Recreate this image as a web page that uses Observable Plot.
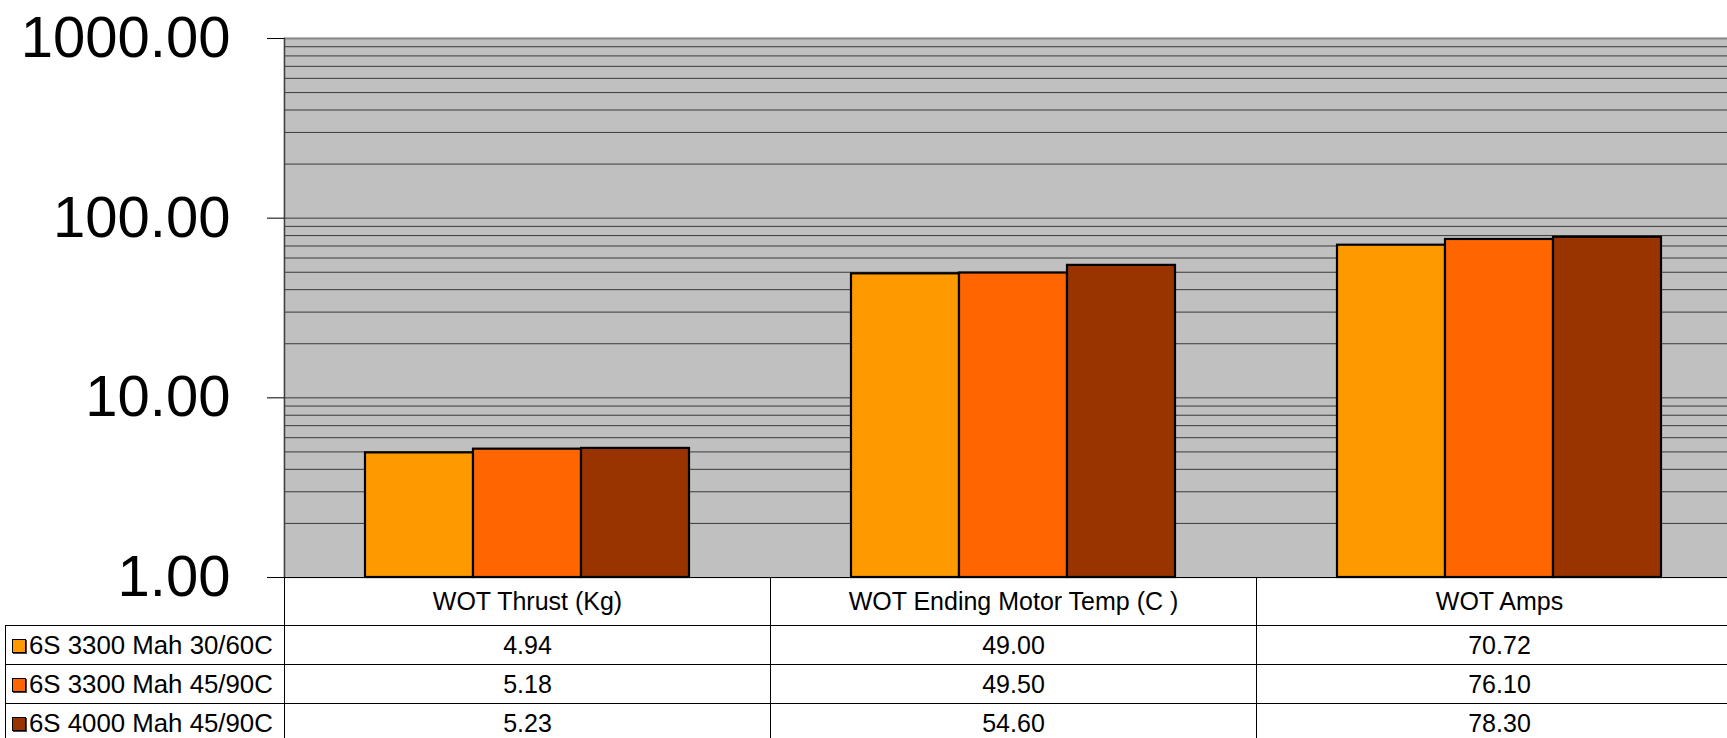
<!DOCTYPE html>
<html>
<head>
<meta charset="utf-8">
<script src="https://cdn.jsdelivr.net/npm/d3@7"></script>
<script src="https://cdn.jsdelivr.net/npm/@observablehq/plot@0.6"></script>
<style>
html, body { margin: 0; padding: 0; background: #fff; overflow: hidden; width: 1727px; height: 738px; }
#wrap { position: relative; width: 1727px; height: 738px; font-family: "Liberation Sans", Arial, sans-serif; }
#chart svg { display: block; overflow: visible; }
#tbl { position: absolute; left: 5px; top: 577px; border-collapse: collapse; table-layout: fixed; font-size: 25px; color: #000; }
#tbl td, #tbl th { border: 1px solid #000; padding: 0; text-align: center; font-weight: normal; white-space: nowrap; overflow: hidden; }
#tbl tr.head { height: 48px; }
#tbl tr.row { height: 39px; }
#tbl th.corner { border-top: none; border-left: none; }
#tbl td.lab { text-align: left; padding-left: 6px; font-size: 25.8px; }
.sw { display: inline-block; width: 12px; height: 12px; border: 1px solid #000; box-shadow: 1px 1px 0 #444; margin-right: 3px; vertical-align: 1px; }
</style>
</head>
<body>
<div id="wrap">
  <div id="chart"></div>
</div>
<script>
const categories = ["WOT Thrust (Kg)", "WOT Ending Motor Temp (C )", "WOT Amps"];
const series = ["6S 3300 Mah 30/60C", "6S 3300 Mah 45/90C", "6S 4000 Mah 45/90C"];
const values3300_30 = [4.94, 49.00, 70.72];
const values3300_45 = [5.18, 49.50, 76.10];
const values4000_45 = [5.23, 54.60, 78.30];
const seriesValues = [values3300_30, values3300_45, values4000_45];
const colors = ["#FF9900", "#FF6600", "#993300"];
const yTicks = [1, 10, 100, 1000];

const rows = series.flatMap((s, i) => categories.map((c, j) => ({series: s, category: c, value: seriesValues[i][j]})));
const gridTicks = d3.scaleLog().domain([1, 1000]).ticks();
const fmt = d3.format(".2f");

const chart = Plot.plot({
  width: 1727,
  height: 620,
  marginTop: 38,
  marginLeft: 284,
  marginRight: -15,
  marginBottom: 43,
  style: {fontFamily: "'Liberation Sans', Arial, sans-serif", background: "transparent", overflow: "visible", color: "#000"},
  fx: {domain: categories, axis: null, padding: 0, label: null},
  x: {domain: series, axis: null, paddingInner: 0, paddingOuter: 0.75, label: null},
  y: {type: "log", domain: [1, 1000], axis: null, label: null},
  color: {domain: series, range: colors},
  marks: [
    Plot.frame({fill: "#C0C0C0", stroke: "#C0C0C0", strokeWidth: 1.5}),
    Plot.ruleY(gridTicks, {stroke: "#3a3a3a", strokeWidth: 1}),
    Plot.ruleY([1000], {stroke: "#888", strokeWidth: 2}),
    Plot.barY(rows, {fx: "category", x: "series", y1: 1, y2: "value", fill: "series", stroke: "#000", strokeWidth: 2.2}),
    Plot.ruleY([1], {stroke: "#000", strokeWidth: 1}),
    Plot.frame({anchor: "left", facetAnchor: "left", stroke: "#404040", strokeWidth: 1.5}),
    Plot.axisY({ticks: yTicks, tickFormat: fmt, fontSize: 58, tickSize: 17, tickPadding: 37, stroke: "#000", strokeOpacity: 1, label: null})
  ]
});
document.getElementById("chart").appendChild(chart);

// data table under the chart
const tbl = document.createElement("table");
tbl.id = "tbl";
const colgroup = document.createElement("colgroup");
[279, 486, 486, 486].forEach(w => { const c = document.createElement("col"); c.style.width = w + "px"; colgroup.appendChild(c); });
tbl.appendChild(colgroup);
tbl.style.width = (279 + 486 * 3) + "px";
const head = document.createElement("tr");
head.className = "head";
const corner = document.createElement("th");
corner.className = "corner";
head.appendChild(corner);
categories.forEach(c => { const th = document.createElement("th"); th.textContent = c; head.appendChild(th); });
tbl.appendChild(head);
series.forEach((s, i) => {
  const tr = document.createElement("tr");
  tr.className = "row";
  const lab = document.createElement("td");
  lab.className = "lab";
  const sw = document.createElement("span");
  sw.className = "sw";
  sw.style.background = colors[i];
  lab.appendChild(sw);
  lab.appendChild(document.createTextNode(s));
  tr.appendChild(lab);
  seriesValues[i].forEach(v => { const td = document.createElement("td"); td.textContent = fmt(v); tr.appendChild(td); });
  tbl.appendChild(tr);
});
document.getElementById("wrap").appendChild(tbl);
</script>
</body>
</html>
